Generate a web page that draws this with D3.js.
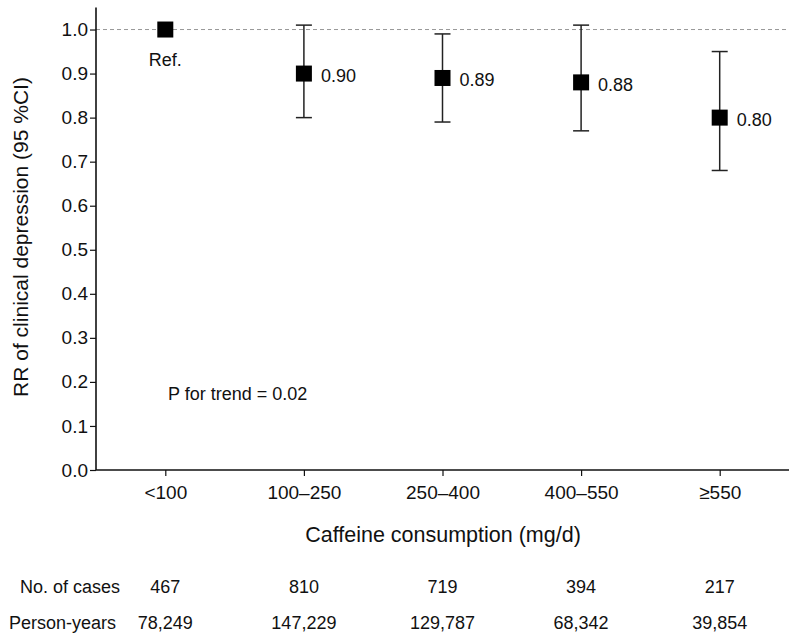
<!DOCTYPE html>
<html><head><meta charset="utf-8">
<script src="https://cdn.jsdelivr.net/npm/d3@7"></script>
<style>body{margin:0;background:#fff}svg text{font-family:"Liberation Sans",Arial,sans-serif;fill:#111}</style>
</head><body><svg id="c" width="800" height="641"></svg>
<script>
const categories = ["<100", "100\u2013250", "250\u2013400", "400\u2013550", "\u2265550"];
const rr = [1.00, 0.90, 0.89, 0.88, 0.80];
const lower = [null, 0.80, 0.79, 0.77, 0.68];
const upper = [null, 1.01, 0.99, 1.01, 0.95];
const rrLabels = ["Ref.", "0.90", "0.89", "0.88", "0.80"];
const cases = ["467", "810", "719", "394", "217"];
const personYears = ["78,249", "147,229", "129,787", "68,342", "39,854"];
const yTicks = [0.0, 0.1, 0.2, 0.3, 0.4, 0.5, 0.6, 0.7, 0.8, 0.9, 1.0];

const svg = d3.select("#c");
const x = d3.scalePoint().domain(categories).range([96, 789]).padding(0.5);
const y = d3.scaleLinear().domain([0, 1.05]).range([470, 7.5]);

// reference line
svg.append("line").attr("x1", 96).attr("x2", 789).attr("y1", y(1)).attr("y2", y(1))
  .attr("stroke", "#999").attr("stroke-width", 1).attr("stroke-dasharray", "4,3");

// axes
const yAxis = svg.append("g").attr("transform", "translate(96,0)")
  .call(d3.axisLeft(y).tickValues(yTicks).tickFormat(d3.format(".1f")).tickSize(6).tickPadding(2));
const xAxis = svg.append("g").attr("transform", "translate(0,470)")
  .call(d3.axisBottom(x).tickSize(6).tickPadding(9.5).tickSizeOuter(0));
[yAxis, xAxis].forEach(g => {
  g.select(".domain").attr("stroke", "#111").attr("stroke-width", 1.6);
  g.selectAll(".tick line").attr("stroke", "#111").attr("stroke-width", 1.2);
  g.selectAll(".tick text").attr("font-size", 19).attr("fill", "#111")
    .style("font-family", '"Liberation Sans",Arial,sans-serif');
});
yAxis.select(".domain").attr("d", `M0,${y(1.05)}V${y(0)}`);
xAxis.select(".domain").attr("d", `M96,0H789`);

// error bars
const data = categories.map((c, i) => ({c, rr: rr[i], lo: lower[i], hi: upper[i], lab: rrLabels[i]}));
const eb = svg.append("g");
data.filter(d => d.lo !== null).forEach(d => {
  const cx = x(d.c);
  eb.append("line").attr("x1", cx).attr("x2", cx).attr("y1", y(d.lo)).attr("y2", y(d.hi))
    .attr("stroke", "#222").attr("stroke-width", 1.5);
  [d.lo, d.hi].forEach(v => eb.append("line").attr("x1", cx - 8).attr("x2", cx + 8)
    .attr("y1", y(v)).attr("y2", y(v)).attr("stroke", "#222").attr("stroke-width", 1.5));
});
// markers
svg.append("g").selectAll("rect").data(data).join("rect")
  .attr("x", d => x(d.c) - 8).attr("y", d => y(d.rr) - 8).attr("width", 16).attr("height", 16)
  .attr("fill", "#000");
// value labels
svg.append("g").selectAll("text").data(data).join("text")
  .attr("x", d => d.lo === null ? x(d.c) : x(d.c) + 17)
  .attr("y", d => d.lo === null ? y(d.rr) + 36 : y(d.rr) + 8.5)
  .attr("text-anchor", d => d.lo === null ? "middle" : "start")
  .attr("font-size", 18).text(d => d.lab);

// annotation
svg.append("text").attr("x", 168).attr("y", 400).attr("font-size", 18).text("P for trend = 0.02");

// axis titles
svg.append("text").attr("transform", "translate(28,237) rotate(-90)").attr("text-anchor", "middle")
  .attr("font-size", 21).text("RR of clinical depression (95 %CI)");
svg.append("text").attr("x", 443).attr("y", 542).attr("text-anchor", "middle")
  .attr("font-size", 21.5).text("Caffeine consumption (mg/d)");

// table
svg.append("text").attr("x", 120).attr("y", 593).attr("text-anchor", "end").attr("font-size", 18).text("No. of cases");
svg.append("text").attr("x", 116).attr("y", 629).attr("text-anchor", "end").attr("font-size", 18).text("Person-years");
svg.append("g").selectAll("text").data(categories).join("text")
  .attr("x", d => x(d)).attr("y", 593).attr("text-anchor", "middle").attr("font-size", 18)
  .text((d, i) => cases[i]);
svg.append("g").selectAll("text").data(categories).join("text")
  .attr("x", d => x(d)).attr("y", 629).attr("text-anchor", "middle").attr("font-size", 18)
  .text((d, i) => personYears[i]);
</script></body></html>
